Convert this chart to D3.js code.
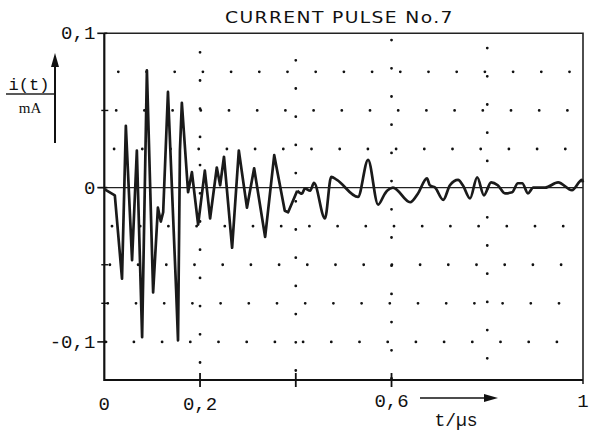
<!DOCTYPE html>
<html>
<head>
<meta charset="utf-8">
<title>Current pulse No.7</title>
<script src="https://d3js.org/d3.v7.min.js"></script>
<style>
  body { margin: 0; background: #fff; }
  .mono { font-family: "Liberation Mono", "DejaVu Sans Mono", monospace; fill: #111; }
</style>
</head>
<body>
<div id="chart"></div>
<script>
// time in microseconds
var tVals = [0.000, 0.022, 0.037, 0.045, 0.058, 0.068, 0.079, 0.089, 0.102, 0.112,
             0.118, 0.123, 0.133, 0.150, 0.154, 0.158, 0.162, 0.175, 0.183, 0.196,
             0.210, 0.221, 0.235, 0.242, 0.250, 0.267, 0.281, 0.298, 0.313, 0.336,
             0.355, 0.377, 0.384, 0.403, 0.413, 0.419, 0.430, 0.438, 0.461, 0.474,
             0.486, 0.530, 0.551, 0.572, 0.586, 0.591, 0.603, 0.639, 0.655, 0.674,
             0.680, 0.691, 0.708, 0.722, 0.739, 0.749, 0.764, 0.779, 0.793, 0.808,
             0.822, 0.837, 0.852, 0.864, 0.873, 0.885, 0.896, 0.921, 0.948, 0.977,
             0.998, 1.000];
// current in mA
var iVals = [-0.001, -0.005, -0.059, 0.040, -0.047, 0.024, -0.097, 0.076, -0.068, -0.013,
             -0.022, -0.016, 0.062, -0.066, -0.099, 0.024, 0.055, -0.003, 0.010, -0.024,
             0.011, -0.020, 0.013, 0.0015, 0.020, -0.039, 0.024, -0.013, 0.0125, -0.032,
             0.021, -0.015, -0.016, -0.002, -0.004, -0.0005, -0.002, 0.003, -0.020, 0.007,
             0.005, -0.006, 0.018, -0.011, -0.004, -0.002, 0.000, -0.0095, -0.004, 0.006,
             0.0015, 0.000, -0.008, 0.0015, 0.005, 0.0015, -0.007, 0.0067, -0.005, 0.0034,
             0.0015, -0.0037, -0.003, 0.0028, 0.0028, -0.0037, 0.000, 0.000, 0.0034, -0.0017,
             0.005, 0.0034];

var xTickVals = [0, 0.2, 0.6, 1];
var xTickLabels = ["0", "0,2", "0,6", "1"];
var xTickMarks = [0.2, 0.4, 0.6];
var yTickVals = [0.1, 0, -0.1];
var yTickLabels = ["0,1", "0", "-0,1"];
var yMinorTicks = [0.05, -0.05, -0.075];
var gridRows = [0.075, 0.05, 0.025, -0.025, -0.05, -0.075, -0.1];
var gridCols = [0.2, 0.4, 0.6, 0.8];

var W = 590, H = 430;
var x = d3.scaleLinear().domain([0, 1]).range([104.3, 583]);
var y = d3.scaleLinear().domain([-0.1247, 0.1]).range([380, 33.3]);

var svg = d3.select("#chart").append("svg")
    .attr("width", W).attr("height", H);

// dotted grid (plotter dots)
var pitch = 28.2;
svg.append("g").selectAll("line").data(gridRows).enter().append("line")
    .attr("x1", x(0)).attr("x2", x(1))
    .attr("y1", function(d) { return y(d); })
    .attr("y2", function(d) { return y(d); })
    .attr("stroke", "#111").attr("stroke-width", 2.8)
    .attr("stroke-linecap", "round")
    .attr("stroke-dasharray", "0 " + pitch)
    .attr("stroke-dashoffset", function(d, i) { return -(14 - 2.1 * i); });

svg.append("g").selectAll("line").data(gridCols).enter().append("line")
    .attr("x1", function(d) { return x(d); })
    .attr("x2", function(d) { return x(d); })
    .attr("y1", y(0.1)).attr("y2", y.range()[0])
    .attr("stroke", "#111").attr("stroke-width", 2.8)
    .attr("stroke-linecap", "round")
    .attr("stroke-dasharray", "0 " + pitch)
    .attr("stroke-dashoffset", function(d, i) { return -((19 + 8 * i) % pitch); });

// zero line
svg.append("line")
    .attr("x1", x(0) - 6).attr("x2", x(1))
    .attr("y1", y(0)).attr("y2", y(0))
    .attr("stroke", "#222").attr("stroke-width", 1.2);

// frame
svg.append("path")
    .attr("d", "M" + x(0) + "," + y(0.1) + "H" + x(1) + "V" + (y.range()[0] + 4))
    .attr("fill", "none").attr("stroke", "#222").attr("stroke-width", 1.6);
svg.append("path")
    .attr("d", "M" + x(0) + "," + y(0.1) + "V" + y.range()[0] + "H" + x(1))
    .attr("fill", "none").attr("stroke", "#111").attr("stroke-width", 2.2);

// y ticks
svg.append("g").selectAll("line").data(yTickVals).enter().append("line")
    .attr("x1", x(0) - 7).attr("x2", x(0) + 3)
    .attr("y1", function(d) { return y(d); })
    .attr("y2", function(d) { return y(d); })
    .attr("stroke", "#111").attr("stroke-width", 1.6);
svg.append("g").selectAll("line").data(yMinorTicks).enter().append("line")
    .attr("x1", x(0) - 3).attr("x2", x(0) + 4)
    .attr("y1", function(d) { return y(d); })
    .attr("y2", function(d) { return y(d); })
    .attr("stroke", "#111").attr("stroke-width", 1.4);

// x ticks
svg.append("g").selectAll("line").data(xTickMarks).enter().append("line")
    .attr("x1", function(d) { return x(d); })
    .attr("x2", function(d) { return x(d); })
    .attr("y1", y.range()[0] - 7).attr("y2", y.range()[0] + 7)
    .attr("stroke", "#111").attr("stroke-width", 1.8);

// tick labels
svg.append("g").selectAll("text").data(yTickVals).enter().append("text")
    .attr("class", "mono")
    .attr("x", x(0) - 9)
    .attr("y", function(d) { return y(d) + 6; })
    .attr("text-anchor", "end")
    .style("font-size", "19px")
    .text(function(d, i) { return yTickLabels[i]; });

svg.append("g").selectAll("text").data(xTickVals).enter().append("text")
    .attr("class", "mono")
    .attr("x", function(d) { return x(d); })
    .attr("y", function(d) { return d === 0.6 || d === 1 ? 407 : 410; })
    .attr("text-anchor", "middle")
    .style("font-size", "19px")
    .text(function(d, i) { return xTickLabels[i]; });

// the pulse: sharp spikes first, smoother ringing after ~0.4 us
var split = tVals.findIndex(function(t) { return t >= 0.4; });
var pts = iVals.map(function(v, i) { return [tVals[i], v]; });
var lineSharp = d3.line()
    .x(function(d) { return x(d[0]); })
    .y(function(d) { return y(d[1]); });
var lineSmooth = d3.line()
    .curve(d3.curveMonotoneX)
    .x(function(d) { return x(d[0]); })
    .y(function(d) { return y(d[1]); });
svg.append("path")
    .datum(pts.slice(0, split + 1))
    .attr("d", lineSharp)
    .attr("fill", "none")
    .attr("stroke", "#1a1a1a")
    .attr("stroke-width", 2.7)
    .attr("stroke-linejoin", "round");
svg.append("path")
    .datum(pts.slice(split))
    .attr("d", lineSmooth)
    .attr("fill", "none")
    .attr("stroke", "#1a1a1a")
    .attr("stroke-width", 2.7)
    .attr("stroke-linejoin", "round");

// title
svg.append("g")
    .attr("transform", "translate(225,23) scale(1.25,1)")
  .append("text")
    .attr("x", 0).attr("y", 0)
    .attr("textLength", 182).attr("lengthAdjust", "spacing")
    .style("font-family", "DejaVu Sans, sans-serif")
    .style("font-size", "15px")
    .attr("fill", "#111")
    .text("CURRENT PULSE No.7");

// y axis label with arrow
svg.append("text").attr("class", "mono")
    .attr("x", 29).attr("y", 90).attr("text-anchor", "middle")
    .style("font-size", "17px").text("i(t)");
svg.append("line")
    .attr("x1", 6).attr("x2", 55).attr("y1", 94).attr("y2", 94)
    .attr("stroke", "#222").attr("stroke-width", 1.3);
svg.append("text").attr("class", "mono")
    .attr("x", 30).attr("y", 113).attr("text-anchor", "middle")
    .style("font-family", "Liberation Serif, serif")
    .style("font-size", "15px").text("mA");
svg.append("line")
    .attr("x1", 55).attr("x2", 55).attr("y1", 62).attr("y2", 143)
    .attr("stroke", "#111").attr("stroke-width", 2);
svg.append("path")
    .attr("d", "M55,53 L59,67 L51,67 Z").attr("fill", "#111");

// x axis label with arrow
svg.append("line")
    .attr("x1", 420).attr("x2", 487).attr("y1", 398).attr("y2", 398)
    .attr("stroke", "#111").attr("stroke-width", 1.6);
svg.append("path")
    .attr("d", "M498,398 L484,394 L484,402 Z").attr("fill", "#111");
svg.append("text").attr("class", "mono")
    .attr("x", 456).attr("y", 426).attr("text-anchor", "middle")
    .style("font-size", "18px").text("t/\u00b5s");
</script>
</body>
</html>
